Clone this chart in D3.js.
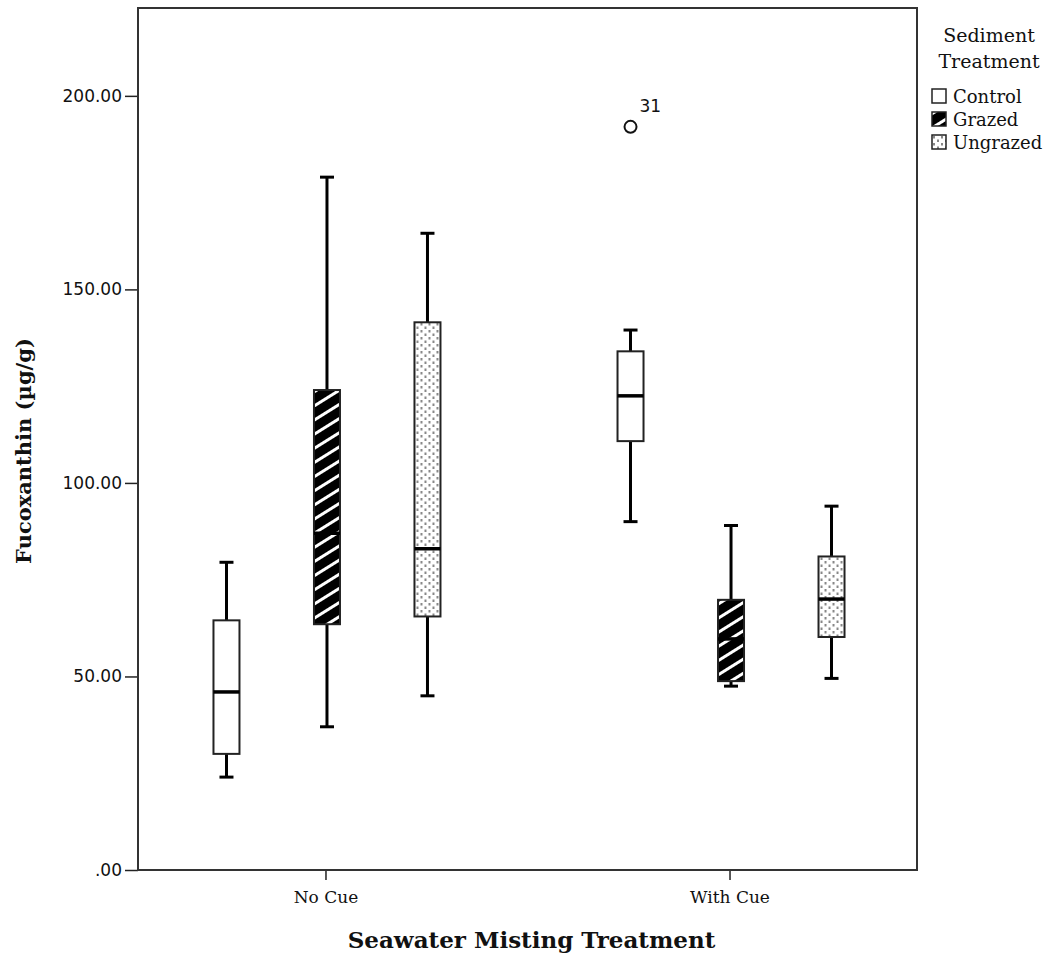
<!DOCTYPE html>
<html>
<head>
<meta charset="utf-8">
<script src="https://cdn.jsdelivr.net/npm/d3@7"></script>
<style>
  body { margin: 0; background: #fff; }
  svg { display: block; }
</style>
</head>
<body>
<div id="chart"></div>
<script>
const groups = ["No Cue", "With Cue"];
const series = ["Control", "Grazed", "Ungrazed"];

// box stats per group, in series order: [min, q1, median, q3, max]
const noCue = [
  [24, 30, 46, 64.5, 79.5],
  [37, 63.5, 87, 124, 179],
  [45, 65.5, 83, 141.5, 164.5]
];
const withCue = [
  [90, 110.8, 122.5, 134, 139.5],
  [47.5, 48.8, 59.7, 69.8, 89],
  [49.5, 60.2, 70, 81, 94]
];
const outliers = [{ group: "With Cue", series: "Control", value: 192, label: "31" }];

const yTicks = [0, 50, 100, 150, 200];

const width = 1047;
const height = 955;
const margin = { top: 8, right: 130, bottom: 85, left: 138 };

const svg = d3.select("#chart")
  .append("svg")
  .attr("width", width)
  .attr("height", height);

const defs = svg.append("defs");

// Grazed: black with white diagonal stripes
const stripes = defs.append("pattern")
  .attr("id", "grazed")
  .attr("patternUnits", "userSpaceOnUse")
  .attr("width", 12)
  .attr("height", 12)
  .attr("patternTransform", "rotate(-32)");
stripes.append("rect").attr("width", 12).attr("height", 12).attr("fill", "#000");
stripes.append("rect").attr("y", 0).attr("width", 12).attr("height", 3).attr("fill", "#fff");

// Ungrazed: staggered grey dots
const dots = defs.append("pattern")
  .attr("id", "ungrazed")
  .attr("patternUnits", "userSpaceOnUse")
  .attr("width", 8)
  .attr("height", 7);
dots.append("rect").attr("width", 8).attr("height", 7).attr("fill", "#fff");
dots.append("rect").attr("x", 1).attr("y", 1).attr("width", 2).attr("height", 2.5).attr("fill", "#888");
dots.append("rect").attr("x", 5).attr("y", 4.5).attr("width", 2).attr("height", 2.5).attr("fill", "#888");

const fills = { Control: "#fff", Grazed: "url(#grazed)", Ungrazed: "url(#ungrazed)" };

const x = d3.scalePoint()
  .domain(groups)
  .range([margin.left, width - margin.right])
  .padding(0.464);

const xInner = d3.scalePoint()
  .domain(series)
  .range([-99, 102]);

const y = d3.scaleLinear()
  .domain([0, 222.7])
  .range([height - margin.bottom, margin.top]);

const boxW = 26;
const capW = 14;

// axes
const yAxis = svg.append("g")
  .attr("transform", `translate(${margin.left},0)`)
  .call(d3.axisLeft(y).tickValues(yTicks).tickSize(13).tickPadding(3)
    .tickFormat(d => d === 0 ? ".00" : d3.format(".2f")(d)));
yAxis.select(".domain").remove();
yAxis.selectAll("line").attr("stroke", "#222").attr("stroke-width", 1.5);
yAxis.selectAll("text")
  .attr("font-family", "'DejaVu Sans', sans-serif")
  .attr("font-size", 17)
  .attr("fill", "#111");

const xAxis = svg.append("g")
  .attr("transform", `translate(0,${height - margin.bottom})`)
  .call(d3.axisBottom(x).tickSize(10).tickPadding(11));
xAxis.select(".domain").remove();
xAxis.selectAll("line").attr("stroke", "#222").attr("stroke-width", 1.5);
xAxis.selectAll("text")
  .attr("font-family", "'DejaVu Serif', serif")
  .attr("font-size", 17)
  .attr("fill", "#111");

// frame
svg.append("rect")
  .attr("x", margin.left)
  .attr("y", margin.top)
  .attr("width", width - margin.left - margin.right)
  .attr("height", height - margin.top - margin.bottom)
  .attr("fill", "none")
  .attr("stroke", "#333")
  .attr("stroke-width", 2);

// boxes
const boxData = [];
groups.forEach((g, gi) => {
  const stats = gi === 0 ? noCue : withCue;
  series.forEach((s, si) => {
    const [min, q1, med, q3, max] = stats[si];
    boxData.push({ group: g, series: s, min, q1, med, q3, max });
  });
});

const box = svg.append("g")
  .selectAll("g")
  .data(boxData)
  .enter()
  .append("g")
  .attr("transform", d => `translate(${x(d.group) + xInner(d.series)},0)`);

box.append("line")
  .attr("x1", 0).attr("x2", 0)
  .attr("y1", d => y(d.max)).attr("y2", d => y(d.min))
  .attr("stroke", "#000").attr("stroke-width", 3);

box.append("line")
  .attr("x1", -capW / 2).attr("x2", capW / 2)
  .attr("y1", d => y(d.max)).attr("y2", d => y(d.max))
  .attr("stroke", "#000").attr("stroke-width", 3);

box.append("line")
  .attr("x1", -capW / 2).attr("x2", capW / 2)
  .attr("y1", d => y(d.min)).attr("y2", d => y(d.min))
  .attr("stroke", "#000").attr("stroke-width", 3);

box.append("rect")
  .attr("x", -boxW / 2)
  .attr("width", boxW)
  .attr("y", d => y(d.q3))
  .attr("height", d => y(d.q1) - y(d.q3))
  .attr("fill", d => fills[d.series])
  .attr("stroke", "#222")
  .attr("stroke-width", 2);

box.append("line")
  .attr("x1", -boxW / 2).attr("x2", boxW / 2)
  .attr("y1", d => y(d.med)).attr("y2", d => y(d.med))
  .attr("stroke", "#000").attr("stroke-width", 3.5);

// outliers
const out = svg.append("g")
  .selectAll("g")
  .data(outliers)
  .enter()
  .append("g")
  .attr("transform", d => `translate(${x(d.group) + xInner(d.series)},${y(d.value)})`);
out.append("circle")
  .attr("r", 6)
  .attr("fill", "none")
  .attr("stroke", "#111")
  .attr("stroke-width", 2);
out.append("text")
  .attr("x", 9)
  .attr("y", -15)
  .attr("font-family", "'DejaVu Sans', sans-serif")
  .attr("font-size", 17)
  .attr("fill", "#111")
  .text(d => d.label);

// axis titles
svg.append("text")
  .attr("x", (margin.left + width - margin.right) / 2 + 4)
  .attr("y", 948)
  .attr("text-anchor", "middle")
  .attr("font-family", "'DejaVu Serif', serif")
  .attr("font-weight", "bold")
  .attr("font-size", 23)
  .attr("fill", "#111")
  .text("Seawater Misting Treatment");

svg.append("text")
  .attr("transform", `translate(31,${(margin.top + height - margin.bottom) / 2 + 12}) rotate(-90)`)
  .attr("text-anchor", "middle")
  .attr("font-family", "'DejaVu Serif', serif")
  .attr("font-weight", "bold")
  .attr("font-size", 21)
  .attr("fill", "#111")
  .text("Fucoxanthin (µg/g)");

// legend
const legend = svg.append("g");
legend.append("text")
  .attr("x", 989).attr("y", 42)
  .attr("text-anchor", "middle")
  .attr("font-family", "'DejaVu Serif', serif")
  .attr("font-size", 19)
  .attr("fill", "#111")
  .text("Sediment");
legend.append("text")
  .attr("x", 989).attr("y", 68)
  .attr("text-anchor", "middle")
  .attr("font-family", "'DejaVu Serif', serif")
  .attr("font-size", 19)
  .attr("fill", "#111")
  .text("Treatment");

const item = legend.selectAll("g.item")
  .data(series)
  .enter()
  .append("g")
  .attr("class", "item")
  .attr("transform", (d, i) => `translate(932,${89 + i * 23})`);
item.append("rect")
  .attr("width", 14).attr("height", 14)
  .attr("fill", d => fills[d])
  .attr("stroke", "#222")
  .attr("stroke-width", 1.5);
item.append("text")
  .attr("x", 21).attr("y", 14)
  .attr("font-family", "'DejaVu Serif', serif")
  .attr("font-size", 18)
  .attr("fill", "#111")
  .text(d => d);
</script>
</body>
</html>
